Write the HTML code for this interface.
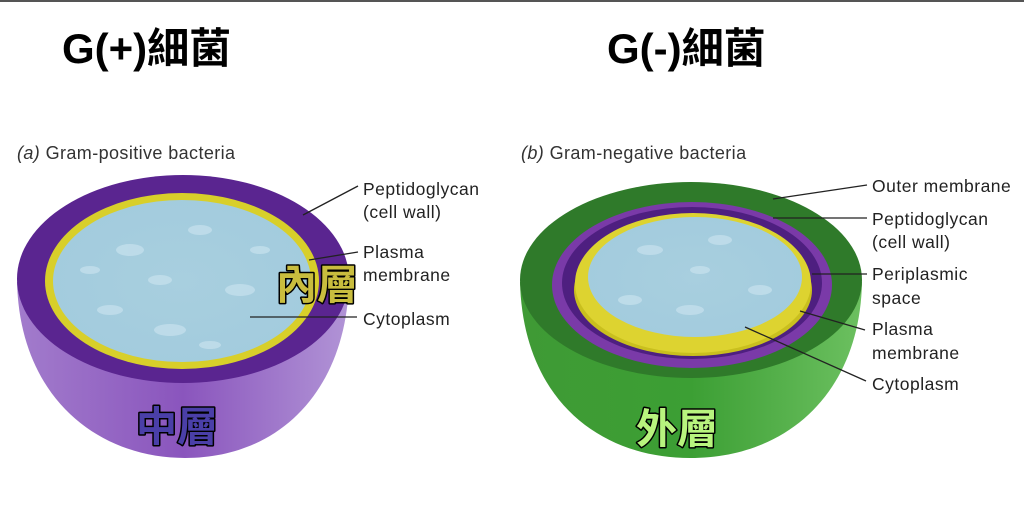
<!DOCTYPE html>
<html><head><meta charset="utf-8"><style>
html,body{margin:0;padding:0;background:#fff;}
svg{display:block;}
</style></head><body>
<svg width="1024" height="514" viewBox="0 0 1024 514" xmlns="http://www.w3.org/2000/svg">
<defs>
<linearGradient id="pb" x1="0" y1="0" x2="1" y2="0">
<stop offset="0" stop-color="#a27ccc"/><stop offset="0.5" stop-color="#8a55bd"/><stop offset="1" stop-color="#b194d6"/>
</linearGradient>
<linearGradient id="gb" x1="0" y1="0" x2="1" y2="0">
<stop offset="0" stop-color="#3f9a35"/><stop offset="0.5" stop-color="#3c9f34"/><stop offset="1" stop-color="#6cc060"/>
</linearGradient>
<radialGradient id="blue" cx="0.5" cy="0.5" r="0.6">
<stop offset="0" stop-color="#a8cfdf"/><stop offset="1" stop-color="#a2cbdd"/>
</radialGradient>
</defs>
<rect x="0" y="0" width="1024" height="2" fill="#555"/>

<g font-family="'Liberation Sans','Noto Sans CJK TC',sans-serif" font-weight="bold" font-size="42" fill="#000">
<text x="62" y="63">G(+)細菌</text>
<text x="607" y="63">G(-)細菌</text>
</g>

<g font-family="'Liberation Sans',sans-serif" font-size="18" fill="#333" letter-spacing="0.4">
<text x="17" y="159"><tspan font-style="italic">(a)</tspan> Gram-positive bacteria</text>
<text x="521" y="159"><tspan font-style="italic">(b)</tspan> Gram-negative bacteria</text>
</g>

<!-- Left: gram positive -->
<path d="M17,282 C20,400 100,458 185,458 C280,458 346,390 349,282 Z" fill="url(#pb)"/>
<ellipse cx="183" cy="279" rx="166" ry="104" fill="#5a2590"/>
<ellipse cx="182" cy="281" rx="137" ry="88" fill="#d8cf2a"/>
<ellipse cx="182" cy="281" rx="129" ry="81" fill="url(#blue)"/>
<g fill="#c8e2ee" opacity="0.7">
<ellipse cx="130" cy="250" rx="14" ry="6"/><ellipse cx="200" cy="230" rx="12" ry="5"/><ellipse cx="240" cy="290" rx="15" ry="6"/>
<ellipse cx="110" cy="310" rx="13" ry="5"/><ellipse cx="170" cy="330" rx="16" ry="6"/><ellipse cx="260" cy="250" rx="10" ry="4"/>
<ellipse cx="90" cy="270" rx="10" ry="4"/><ellipse cx="210" cy="345" rx="11" ry="4"/><ellipse cx="160" cy="280" rx="12" ry="5"/>
</g>
<g stroke="#222" stroke-width="1.3">
<line x1="303" y1="215" x2="358" y2="186"/>
<line x1="309" y1="260" x2="358" y2="252"/>
<line x1="250" y1="317" x2="357" y2="317"/>
</g>
<g font-family="'Liberation Sans',sans-serif" font-size="17.5" fill="#222" letter-spacing="0.5">
<text x="363" y="195">Peptidoglycan</text>
<text x="363" y="218">(cell wall)</text>
<text x="363" y="258">Plasma</text>
<text x="363" y="281">membrane</text>
<text x="363" y="325">Cytoplasm</text>
</g>

<!-- Right: gram negative -->
<path d="M520,282 C523,400 600,458 690,458 C790,458 860,390 862,282 Z" fill="url(#gb)"/>
<ellipse cx="691" cy="280" rx="171" ry="98" fill="#2f7a2a"/>
<ellipse cx="692" cy="285" rx="140" ry="83" fill="#7a3aa8"/>
<ellipse cx="692" cy="283" rx="130" ry="76" fill="#4e1f80"/>
<ellipse cx="693" cy="290" rx="119" ry="66" fill="#c9bf1e"/>
<ellipse cx="693" cy="283" rx="118" ry="70" fill="#ddd330"/>
<ellipse cx="695" cy="277" rx="107" ry="60" fill="url(#blue)"/>
<g fill="#c8e2ee" opacity="0.7">
<ellipse cx="650" cy="250" rx="13" ry="5"/><ellipse cx="720" cy="240" rx="12" ry="5"/><ellipse cx="760" cy="290" rx="12" ry="5"/>
<ellipse cx="630" cy="300" rx="12" ry="5"/><ellipse cx="690" cy="310" rx="14" ry="5"/><ellipse cx="700" cy="270" rx="10" ry="4"/>
</g>
<g stroke="#222" stroke-width="1.3">
<line x1="773" y1="199" x2="867" y2="185"/>
<line x1="773" y1="218" x2="867" y2="218"/>
<line x1="812" y1="274" x2="867" y2="274"/>
<line x1="800" y1="311" x2="865" y2="330"/>
<line x1="745" y1="327" x2="866" y2="381"/>
</g>
<g font-family="'Liberation Sans',sans-serif" font-size="17.5" fill="#222" letter-spacing="0.5">
<text x="872" y="192">Outer membrane</text>
<text x="872" y="225">Peptidoglycan</text>
<text x="872" y="248">(cell wall)</text>
<text x="872" y="280">Periplasmic</text>
<text x="872" y="304">space</text>
<text x="872" y="335">Plasma</text>
<text x="872" y="359">membrane</text>
<text x="872" y="390">Cytoplasm</text>
</g>

<!-- overlay labels -->
<g font-family="'Noto Sans CJK TC','WenQuanYi Zen Hei',sans-serif" font-weight="bold" font-size="41" stroke="#000" stroke-width="3" paint-order="stroke" stroke-linejoin="round">
<text x="276" y="299" fill="#c9bd3e">內層</text>
<text x="136" y="441" fill="#4a3fa8">中層</text>
<text x="636" y="443" fill="#b8f47e">外層</text>
</g>
</svg>
</body></html>
